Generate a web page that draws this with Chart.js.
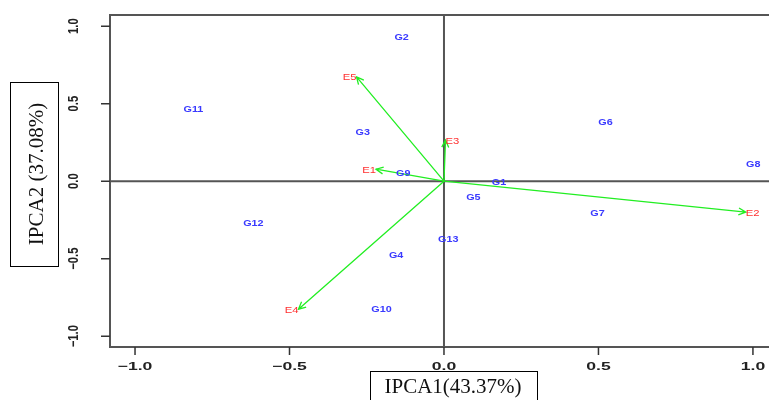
<!DOCTYPE html>
<html>
<head>
<meta charset="utf-8">
<script src="https://cdn.jsdelivr.net/npm/chart.js@4.4.1/dist/chart.umd.min.js"></script>
<style>
  html, body { margin: 0; padding: 0; background: #fff; }
  #wrap { width: 769px; height: 400px; }
</style>
</head>
<body>
<div id="wrap"><canvas id="myChart" width="769" height="400"></canvas></div>
<script>
// genotype scores (IPCA1, IPCA2)
const genoNames = ['G1', 'G2', 'G3', 'G4', 'G5', 'G6', 'G7', 'G8', 'G9', 'G10', 'G11', 'G12', 'G13'];
const genoX = [0.178, -0.137, -0.263, -0.155, 0.095, 0.523, 0.497, 1.001, -0.132, -0.202, -0.811, -0.617, 0.014];
const genoY = [-0.011, 0.925, 0.316, -0.482, -0.105, 0.376, -0.211, 0.110, 0.047, -0.826, 0.465, -0.273, -0.376];

// environment vectors
const envNames = ['E1', 'E2', 'E3', 'E4', 'E5'];
const envX = [-0.220, 0.977, 0.005, -0.471, -0.283];
const envY = [0.077, -0.200, 0.265, -0.826, 0.673];

const tickValues = [-1.0, -0.5, 0.0, 0.5, 1.0];
const tickLabels = ['-1.0', '-0.5', '0.0', '0.5', '1.0'];
const xTitle = 'IPCA1(43.37%)';
const yTitle = 'IPCA2 (37.08%)';

const ctx = document.getElementById('myChart').getContext('2d');

// text squeezed/stretched along its own direction (the original image is distorted)
function stretchText(c, txt, x, y, sx, rot) {
    c.save();
    c.translate(x, y);
    if (rot) c.rotate(rot);
    c.scale(sx, 1);
    c.fillText(txt, 0, 0);
    c.restore();
}

const biplotDraw = {
    id: 'biplotDraw',
    afterDatasetsDraw(chart) {
        const c = chart.ctx;
        const xs = chart.scales.x, ys = chart.scales.y;
        const a = chart.chartArea;
        const x0 = xs.getPixelForValue(0), y0 = ys.getPixelForValue(0);
        c.save();

        // frame + zero lines
        c.strokeStyle = '#555';
        c.lineWidth = 2;
        c.beginPath();
        c.moveTo(a.right + 10, a.top); c.lineTo(a.left, a.top);
        c.lineTo(a.left, a.bottom); c.lineTo(a.right + 10, a.bottom);
        c.moveTo(x0, a.top); c.lineTo(x0, a.bottom);
        c.moveTo(a.left, y0); c.lineTo(a.right, y0);
        c.stroke();

        // tick marks
        c.lineWidth = 1.5;
        c.strokeStyle = '#333';
        c.beginPath();
        tickValues.forEach(v => {
            const px = xs.getPixelForValue(v);
            c.moveTo(px, a.bottom); c.lineTo(px, a.bottom + 8);
            const py = ys.getPixelForValue(v);
            c.moveTo(a.left, py); c.lineTo(a.left - 9, py);
        });
        c.stroke();

        // tick labels
        c.fillStyle = '#222';
        c.textAlign = 'center';
        c.textBaseline = 'middle';
        tickValues.forEach((v, i) => {
            const t = tickLabels[i].replace('-', '\u2212');
            c.font = 'bold 11px "Liberation Sans", Arial, sans-serif';
            stretchText(c, t, xs.getPixelForValue(v), a.bottom + 20, 1.6, 0);
            c.font = 'bold 14px "Liberation Sans", Arial, sans-serif';
            stretchText(c, t, a.left - 36, ys.getPixelForValue(v), 0.8, -Math.PI / 2);
        });

        // environment arrows
        c.strokeStyle = '#22ee22';
        c.lineWidth = 1.3;
        envNames.forEach((n, i) => {
            const tx = xs.getPixelForValue(envX[i]), ty = ys.getPixelForValue(envY[i]);
            const ang = Math.atan2(ty - y0, tx - x0);
            const h = 8, sp = Math.PI / 7;
            c.beginPath();
            c.moveTo(x0, y0); c.lineTo(tx, ty);
            c.moveTo(tx - h * Math.cos(ang - sp), ty - h * Math.sin(ang - sp));
            c.lineTo(tx, ty);
            c.lineTo(tx - h * Math.cos(ang + sp), ty - h * Math.sin(ang + sp));
            c.stroke();
        });

        // environment labels
        c.fillStyle = '#ff3030';
        c.font = '9px "Liberation Sans", Arial, sans-serif';
        envNames.forEach((n, i) => {
            const tx = xs.getPixelForValue(envX[i]), ty = ys.getPixelForValue(envY[i]);
            c.textAlign = envX[i] < 0 ? 'right' : 'left';
            stretchText(c, n, tx, ty + 1, 1.25, 0);
        });

        // genotype labels
        c.fillStyle = '#3a3aff';
        c.font = 'bold 9px "Liberation Sans", Arial, sans-serif';
        c.textAlign = 'center';
        const meta = chart.getDatasetMeta(0);
        meta.data.forEach((pt, i) => {
            stretchText(c, genoNames[i], pt.x, pt.y, 1.2, 0);
        });

        // boxed axis titles
        c.font = '21px "Liberation Serif", "Times New Roman", serif';
        c.fillStyle = '#fff';
        c.fillRect(370, 371, 167, 40);
        c.strokeStyle = '#000';
        c.lineWidth = 1;
        c.strokeRect(370.5, 371.5, 167, 40);
        c.fillStyle = '#111';
        c.textAlign = 'center';
        c.fillText(xTitle, 453, 387);

        c.fillStyle = '#fff';
        c.fillRect(10, 82, 48, 184);
        c.strokeRect(10.5, 82.5, 48, 184);
        c.save();
        c.translate(37, 174);
        c.rotate(-Math.PI / 2);
        c.fillStyle = '#111';
        c.fillText(yTitle, 0, 0);
        c.restore();

        c.restore();
    }
};

const myChart = new Chart(ctx, {
    type: 'scatter',
    data: {
        datasets: [
            {
                label: 'Genotypes',
                data: genoNames.map((n, i) => ({ x: genoX[i], y: genoY[i] })),
                pointRadius: 0,
            },
            {
                label: 'Environments',
                data: envNames.map((n, i) => ({ x: envX[i], y: envY[i] })),
                pointRadius: 0,
            },
        ],
    },
    options: {
        responsive: false,
        animation: false,
        devicePixelRatio: 1,
        layout: { padding: { left: 110, top: 15, right: 0, bottom: 53 } },
        plugins: { legend: { display: false }, tooltip: { enabled: false } },
        scales: {
            x: { type: 'linear', display: false, min: -1.081, max: 1.052 },
            y: { type: 'linear', display: false, min: -1.07, max: 1.072 },
        },
    },
    plugins: [biplotDraw],
});
</script>
</body>
</html>
